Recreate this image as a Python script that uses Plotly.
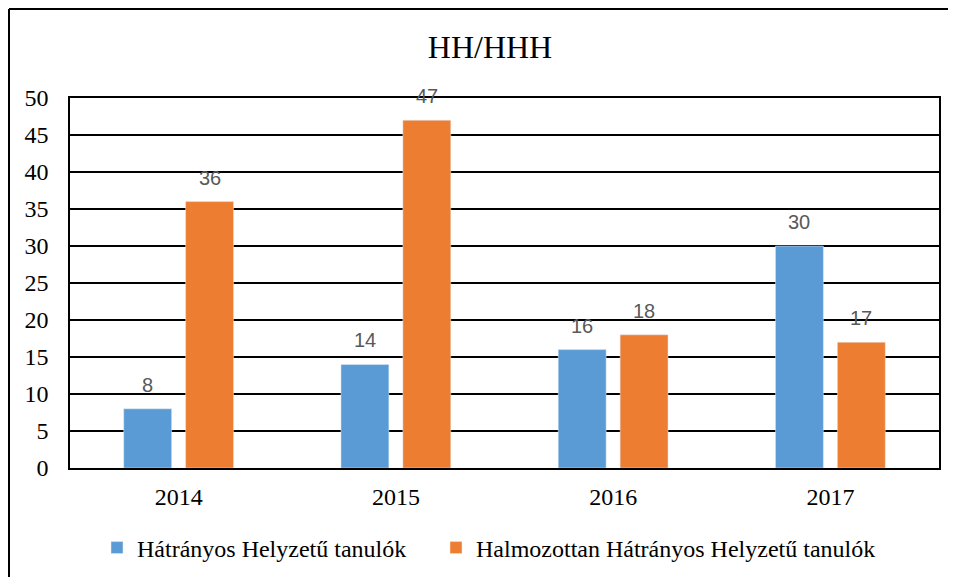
import plotly.graph_objects as go

years = ["2014", "2015", "2016", "2017"]
hh = [8, 14, 16, 30]
hhh = [36, 47, 18, 17]
series_names = ["Hátrányos Helyzetű tanulók", "Halmozottan Hátrányos Helyzetű tanulók"]
title_text = "HH/HHH"

serif = "Liberation Serif"
sans = "Liberation Sans"
colors = ["#5B9BD5", "#ED7D31"]

OFF = 8  # page body margin
W, H = 956 - OFF, 577 - OFF
L, R, T, B = 70 - OFF, 17, 98 - OFF, 109
pw, ph = W - L - R, H - T - B

def px_x(x):  # page pixel -> paper
    return (x - OFF - L) / pw

def px_y(y):
    return (H - B - (y - OFF)) / ph

fig = go.Figure()
for name, vals, col, lg in zip(series_names, [hh, hhh], colors, ["legend", "legend2"]):
    fig.add_trace(go.Bar(x=years, y=vals, name=name, marker_color=col, legend=lg))

# data labels (x given as category index)
label_shift = 31
for vals, sh in [(hh, -label_shift), (hhh, label_shift)]:
    for i, v in enumerate(vals):
        fig.add_annotation(x=i, y=v, text=str(v), showarrow=False, xshift=sh, yshift=11,
                           yanchor="bottom", xanchor="center",
                           font=dict(family=sans, size=20, color="#595959"))

legend_font = dict(family=serif, size=24, color="black")
fig.update_layout(
    width=W, height=H,
    margin=dict(l=L, r=R, t=T, b=B, autoexpand=False),
    paper_bgcolor="white", plot_bgcolor="white",
    font=dict(family=serif, color="black"),
    barmode="group", bargap=0.43, bargroupgap=0.226,
    title=dict(text=title_text, x=(490 - OFF) / W, xanchor="center", y=1 - (47 - OFF) / H,
               yanchor="middle", font=dict(family=serif, size=32, color="black")),
    legend=dict(orientation="h", x=px_x(97), xanchor="left", y=px_y(548), yanchor="middle",
                font=legend_font, itemwidth=30),
    legend2=dict(orientation="h", x=px_x(436), xanchor="left", y=px_y(548), yanchor="middle",
                 font=legend_font, itemwidth=30),
    showlegend=True,
    shapes=[
        dict(type="line", xref="paper", yref="paper", x0=px_x(9), x1=px_x(9),
             y0=px_y(590), y1=px_y(9), line=dict(color="black", width=2)),
        dict(type="line", xref="paper", yref="paper", x0=px_x(9), x1=px_x(970),
             y0=px_y(9), y1=px_y(9), line=dict(color="black", width=2)),
    ],
)
fig.update_yaxes(range=[0, 50], dtick=5, showgrid=True, gridcolor="black", gridwidth=1.5,
                 showline=True, linecolor="black", linewidth=1.5, mirror=True,
                 zeroline=False, ticks="outside", ticklen=15, tickcolor="rgba(0,0,0,0)",
                 automargin=False,
                 tickfont=dict(family=serif, size=24, color="black"))
fig.update_xaxes(type="category", range=[-0.5, len(years) - 0.5],
                 showline=True, linecolor="black", linewidth=1.5, mirror=True,
                 ticks="outside", ticklen=6, tickcolor="rgba(0,0,0,0)", automargin=False,
                 tickfont=dict(family=serif, size=24, color="black"))

fig.write_html("out.html")
